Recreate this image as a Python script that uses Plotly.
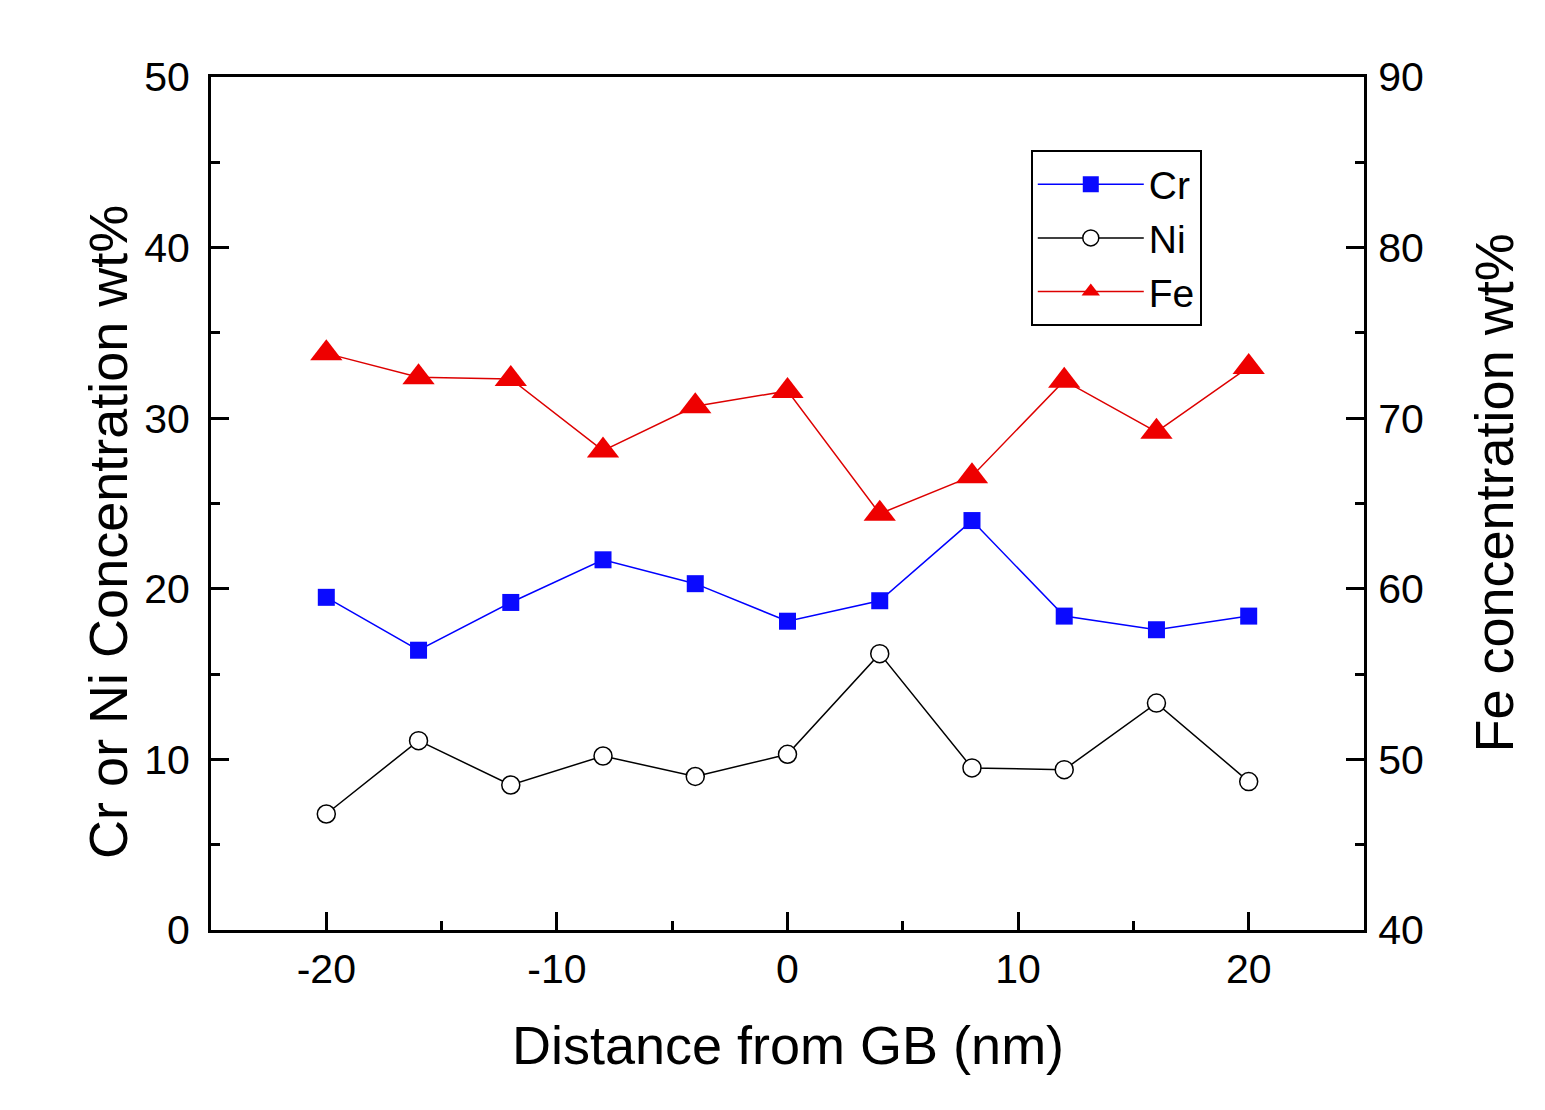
import plotly.graph_objects as go

distance = [-20, -16, -12, -8, -4, 0, 4, 8, 12, 16, 20]
cr = [19.5, 16.4, 19.2, 21.7, 20.3, 18.1, 19.3, 24.0, 18.4, 17.6, 18.4]
ni = [6.8, 11.1, 8.5, 10.2, 9.0, 10.3, 16.2, 9.5, 9.4, 13.3, 8.7]
fe = [73.8, 72.4, 72.3, 68.1, 70.7, 71.6, 64.4, 66.6, 72.2, 69.2, 73.0]

x_ticks = [-20, -10, 0, 10, 20]
x_ticktext = ["-20", "-10", "0", "10", "20"]

FONT = "Liberation Sans, Arial, sans-serif"

fig = go.Figure()
fig.add_trace(go.Scatter(
    x=distance, y=cr, name="Cr", mode="lines+markers",
    line=dict(color="#0000ff", width=1.5),
    marker=dict(symbol="square", size=17, color="#0a0aff", line=dict(width=0)),
))
fig.add_trace(go.Scatter(
    x=distance, y=ni, name="Ni", mode="lines+markers",
    line=dict(color="black", width=1.5),
    marker=dict(symbol="circle", size=18, color="white", line=dict(color="black", width=1.5)),
))
fig.add_trace(go.Scatter(
    x=distance, y=fe, name="Fe", mode="lines+markers", yaxis="y2",
    line=dict(color="#dd0000", width=1.5),
    marker=dict(symbol="triangle-up", size=28, color="#ee0000", line=dict(width=0)),
))

axis_common = dict(
    showgrid=False, zeroline=False, showline=True, linecolor="black", linewidth=3,
    ticks="inside", ticklen=18, tickwidth=3, tickcolor="black",
    tickfont=dict(family=FONT, size=41, color="black"),
    minor=dict(ticks="inside", ticklen=9, tickwidth=3, tickcolor="black", dtick=5),
)

fig.update_layout(
    width=1545, height=1110,
    margin=dict(l=203, r=189, t=69, b=188),
    paper_bgcolor="white", plot_bgcolor="white",
    font=dict(family=FONT, color="black"),
    xaxis=dict(range=[-25, 25], tickmode="array", tickvals=x_ticks, ticktext=x_ticktext,
               mirror=True, ticklabelstandoff=1, **axis_common),
    yaxis=dict(range=[0, 50], dtick=10, tick0=0,
               ticklabelstandoff=10, **axis_common),
    yaxis2=dict(range=[40, 90], dtick=10, tick0=40, overlaying="y", side="right",
                ticklabelstandoff=3, **axis_common),
    showlegend=True,
    legend=dict(x=0.711, y=0.914, xanchor="left", yanchor="top",
                bordercolor="black", borderwidth=2, bgcolor="white",
                font=dict(family=FONT, size=39, color="black"),
                itemwidth=106, tracegroupgap=0),
    annotations=[
        dict(text="Distance from GB (nm)", x=0.5, y=-0.135, xref="paper", yref="paper",
             xanchor="center", yanchor="middle", showarrow=False,
             font=dict(family=FONT, size=54, color="black")),
        dict(text="Cr or Ni Concentration wt%", x=-0.09, y=0.467, xref="paper", yref="paper",
             xanchor="center", yanchor="middle", showarrow=False, textangle=-90,
             font=dict(family=FONT, size=54, color="black")),
        dict(text="Fe concentration wt%", x=1.113, y=0.512, xref="paper", yref="paper",
             xanchor="center", yanchor="middle", showarrow=False, textangle=-90,
             font=dict(family=FONT, size=54, color="black")),
    ],
)

fig.write_html("out.html")
